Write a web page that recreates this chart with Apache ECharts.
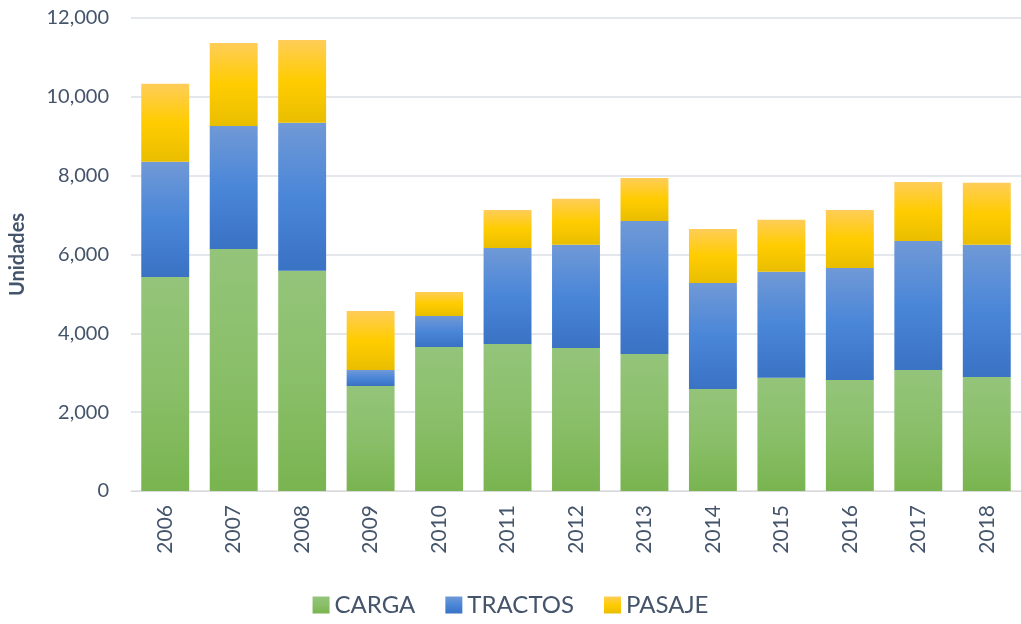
<!DOCTYPE html>
<html>
<head>
<meta charset="utf-8">
<title>Unidades</title>
<script src="https://cdn.jsdelivr.net/npm/echarts@6/dist/echarts.min.js"></script>
<style>
  html, body { margin: 0; padding: 0; background: #fff; }
  #main { width: 1021px; height: 624px; }
</style>
</head>
<body>
<div id="main"></div>
<script>
// datos
var years = ['2006','2007','2008','2009','2010','2011','2012','2013','2014','2015','2016','2017','2018'];
var carga   = [5430, 6140, 5585, 2665, 3655, 3730, 3630, 3475, 2590, 2870, 2815, 3070, 2895];
var tractos = [2920, 3120, 3755,  405,  785, 2435, 2615, 3375, 2690, 2690, 2845, 3275, 3350];
var pasaje  = [1980, 2105, 2105, 1495,  610,  965, 1170, 1090, 1370, 1320, 1470, 1495, 1575];

var txt = '#44546a';
var fam = 'Lato, "Open Sans", sans-serif';

function grad(c1, c2, c3) {
  return new echarts.graphic.LinearGradient(0, 0, 0, 1, [
    { offset: 0, color: c1 }, { offset: 0.5, color: c2 }, { offset: 1, color: c3 }
  ]);
}

var myChart = echarts.init(document.getElementById('main'));
var option = {
  animation: false,
  grid: { left: 131, right: -5, top: 18, bottom: 133 },
  legend: {
    bottom: 2,
    left: 'center',
    itemWidth: 17, itemHeight: 17, itemGap: 30,
    icon: 'rect',
    textStyle: { fontSize: 24, color: txt, fontFamily: fam },
    data: ['CARGA', 'TRACTOS', 'PASAJE']
  },
  xAxis: {
    type: 'category',
    data: years,
    axisLine: { lineStyle: { color: '#d9d9d9' } },
    axisTick: { show: false },
    axisLabel: { rotate: 90, fontSize: 21, color: txt, fontFamily: fam, margin: 14 }
  },
  yAxis: {
    type: 'value',
    min: 0, max: 12000, interval: 2000,
    name: 'Unidades',
    nameLocation: 'middle',
    nameGap: 103,
    nameTextStyle: { fontSize: 20, fontWeight: 'bold', color: txt, fontFamily: fam },
    axisLabel: {
      fontSize: 20, color: txt, fontFamily: fam, margin: 22,
      formatter: function (v) { return v.toLocaleString('en-US'); }
    },
    splitLine: { lineStyle: { color: '#e4e8ed', width: 2 } }
  },
  series: [
    {
      name: 'CARGA', type: 'bar', stack: 'u', barWidth: '70%', data: carga,
      itemStyle: { color: grad('#94c47a', '#8abf69', '#79b450') }
    },
    {
      name: 'TRACTOS', type: 'bar', stack: 'u', data: tractos,
      itemStyle: { color: grad('#7099d6', '#4a86d8', '#3a72c4') }
    },
    {
      name: 'PASAJE', type: 'bar', stack: 'u', data: pasaje,
      itemStyle: { color: grad('#ffcd58', '#ffcc00', '#e9be00') }
    }
  ]
};
myChart.setOption(option);
</script>
</body>
</html>
